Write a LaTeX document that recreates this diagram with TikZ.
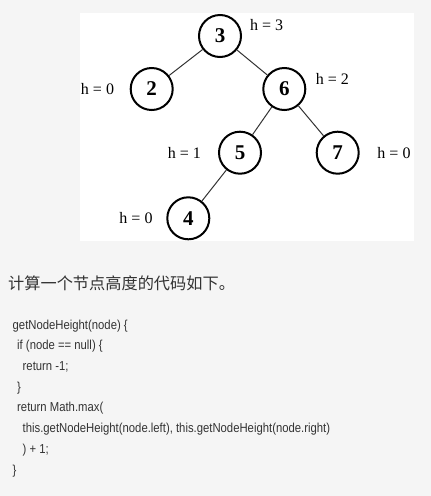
\documentclass[tikz,border=0pt]{standalone}
\usepackage{fontspec}
\setmainfont{Liberation Serif}
\newfontfamily\codefont[FakeStretch=0.87]{Liberation Sans}
\newfontfamily\cjk{Noto Sans CJK SC}
\definecolor{pagebg}{HTML}{F5F5F5}
\definecolor{codegray}{HTML}{333333}
\begin{document}
\begin{tikzpicture}[x=1pt,y=-1pt,
  treenode/.style={circle,draw=black,line width=2pt,minimum size=42pt,inner sep=0pt,
    font=\fontsize{21}{21}\selectfont\bfseries},
  hlabel/.style={font=\fontsize{16}{16}\selectfont,inner sep=0pt},
  edge/.style={draw=black!80,line width=1pt},
  codeline/.style={anchor=base west,inner sep=0pt,text=codegray,
    font=\codefont\fontsize{13}{13}\selectfont}]
\fill[pagebg] (0,0) rectangle (431,496);
\useasboundingbox (0,0) rectangle (431,496);
\fill[white] (80,13) rectangle (414,240.5);
% tree nodes
\node[treenode] (n3) at (220,36) {3};
\node[treenode] (n2) at (151.7,89) {2};
\node[treenode] (n6) at (284.3,89) {6};
\node[treenode] (n5) at (240,152.7) {5};
\node[treenode] (n7) at (337.7,152.7) {7};
\node[treenode] (n4) at (188.3,218.3) {4};
\draw[edge] (n3) -- (n2);
\draw[edge] (n3) -- (n6);
\draw[edge] (n6) -- (n5);
\draw[edge] (n6) -- (n7);
\draw[edge] (n5) -- (n4);
% height labels
\node[hlabel] (h3) at (266.7,25) {h = 3};
\node[hlabel] (h2) at (97.5,89) {h = 0};
\node[hlabel] (h6) at (332.3,79.3) {h = 2};
\node[hlabel] (h5) at (184.3,153) {h = 1};
\node[hlabel] (h7) at (394,153) {h = 0};
\node[hlabel] (h4) at (136,218.3) {h = 0};
% caption
\node[anchor=base west,inner sep=0pt,text=codegray,font=\cjk\fontsize{16.2}{16.2}\selectfont] (cap) at (8,289.5) {计算一个节点高度的代码如下。};
% code
\node[codeline] (c1) at (12.5,329) {getNodeHeight(node) \{};
\node[codeline] (c2) at (17,349.7) {if (node == null) \{};
\node[codeline] (c3) at (22.5,370.4) {return -1;};
\node[codeline] (c4) at (17,391) {\}};
\node[codeline] (c5) at (17,411.8) {return Math.max(};
\node[codeline] (c6) at (22.5,432.5) {this.getNodeHeight(node.left), this.getNodeHeight(node.right)};
\node[codeline] (c7) at (22.5,453.2) {) + 1;};
\node[codeline] (c8) at (12.5,474) {\}};
\end{tikzpicture}
\end{document}
